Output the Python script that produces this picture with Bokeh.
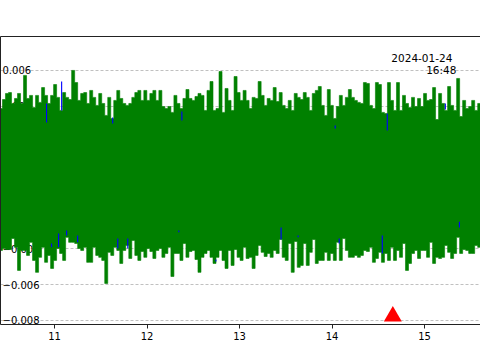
import numpy as np
from bokeh.plotting import figure
from bokeh.models import ColumnDataSource, FixedTicker, LinearAxis, Label, Range1d
from bokeh.core.properties import value
from bokeh.embed import file_html
from bokeh.resources import INLINE

# ---------------- data ----------------
x_ticks = [11, 12, 13, 14, 15]
y_ticks = [0.006, 0.004, 0.002, 0.0, -0.002, -0.004, -0.006, -0.008]
y_tick_labels = ["0.006", "0.004", "0.002", "0.000", "\u22120.002", "\u22120.004", "\u22120.006", "\u22120.008"]

# trace envelope, sampled on a regular time grid (amplitudes in units of 1e-3)
t_start = 10.4201
t_step = 0.03252
upper_e3 = [
    3.87, 4.37, 4.71, 4.76, 4.15, 4.43, 4.71, 4.15, 5.72, 4.43,
    4.60, 3.93, 4.60, 4.21, 5.04, 4.60, 4.15, 4.60, 5.21, 4.49,
    3.76, 4.76, 4.49, 4.37, 6.00, 5.32, 4.32, 4.71, 4.76, 4.15,
    4.88, 4.49, 4.04, 4.71, 4.15, 3.48, 4.49, 3.31, 4.32, 4.88,
    4.43, 4.15, 4.04, 4.15, 4.49, 4.76, 4.88, 4.32, 4.88, 4.32,
    4.71, 4.88, 4.32,
    4.88, 3.98, 3.87, 3.98, 3.65, 4.60, 4.15, 3.87, 4.43, 4.93,
    4.43, 4.32, 4.54, 4.71, 4.60, 3.76, 4.88, 5.38, 3.76, 3.87,
    5.94, 3.65, 4.99, 4.32, 3.76, 5.66, 4.76, 4.32, 4.88, 4.32,
    3.87, 4.49, 4.43, 5.38, 4.60, 4.04, 4.43, 4.32, 5.04, 4.26,
    4.76, 4.04, 3.87, 4.32, 3.76, 4.71, 4.49, 4.37, 4.76, 4.49,
    3.76, 4.71, 4.88,
    5.10, 4.04, 3.48, 4.93, 4.04, 3.31, 3.98, 4.60, 4.04, 4.49,
    4.93, 4.49, 4.32, 4.21, 4.15, 5.32, 5.27, 4.04, 3.87, 5.32,
    5.21, 3.65, 3.59, 5.32, 4.32, 3.76, 5.32, 3.76, 4.60, 4.15,
    3.93, 4.49, 3.98, 4.43, 3.98, 4.71, 4.32, 4.37, 5.04, 3.25,
    4.71, 4.15, 3.76, 5.10, 4.04, 3.76, 5.55, 3.42, 4.32, 3.87,
    3.98, 4.32, 3.76, 4.15,
]
lower_e3 = [
    -4.08, -3.97, -4.03, -4.03, -3.41, -3.91, -5.20, -4.08, -4.08, -4.36,
    -3.63, -4.64, -5.31, -4.47, -3.91, -4.75, -4.36, -5.09, -4.64, -3.97,
    -4.25, -4.64, -3.35, -3.63, -3.63, -3.69, -3.97, -4.08, -3.91, -4.75,
    -4.75, -3.91, -4.36, -4.47, -4.64, -5.93, -4.19, -4.36, -3.91, -4.08,
    -4.81, -4.08, -3.80, -4.53, -3.52, -4.36, -4.64, -4.14, -4.47, -3.97,
    -4.14, -4.53, -4.08,
    -3.97, -4.47, -4.25, -3.91, -5.54, -4.25, -4.25, -4.64, -3.69, -4.47,
    -4.14, -4.08, -4.59, -5.31, -4.47, -4.25, -4.08, -4.47, -4.81, -4.47,
    -4.08, -4.64, -5.09, -4.08, -4.92, -4.03, -4.47, -4.64, -3.91, -4.53,
    -4.47, -5.09, -4.36, -3.80, -4.19, -4.42, -4.25, -4.47, -4.08, -4.25,
    -3.47, -4.47, -4.64, -3.69, -5.31, -3.58, -5.03, -4.92, -3.69, -4.92,
    -4.19, -3.47, -4.81,
    -4.64, -4.64, -4.19, -4.64, -4.25, -4.64, -3.63, -4.64, -3.41, -4.08,
    -4.47, -4.47, -4.36, -4.47, -4.36, -4.08, -4.14, -3.91, -4.75, -4.53,
    -4.19, -4.75, -4.25, -4.64, -3.91, -4.64, -4.08, -4.47, -3.69, -5.20,
    -4.81, -4.25, -4.08, -4.53, -4.08, -4.08, -4.47, -3.63, -4.81, -4.47,
    -4.53, -4.47, -3.80, -4.19, -4.53, -4.25, -3.35, -4.25, -4.03, -4.08,
    -4.25, -4.25, -3.80, -3.91,
]

# second (blue) trace: where it shows past the green one
blue_t = [10.913, 11.076, 11.628, 12.376, 14.597, 15.225, 14.034,
          10.967, 11.043, 11.130, 11.249, 11.683, 11.791, 12.343, 12.744,
          13.449, 13.633, 14.077, 14.543, 15.377]
blue_hi_e3 = [4.15, 5.38, 3.36, 3.70, 3.59, 4.15, 2.92,
              -3.69, -3.13, -2.96, -3.24, -3.41, -3.41, -2.96, -4.59,
              -2.80, -3.24, -3.41, -3.24, -2.47]
blue_lo_e3 = [3.09, 3.76, 3.03, 3.20, 2.64, 3.81, 2.75,
              -3.91, -3.91, -3.24, -3.63, -3.97, -3.97, -3.07, -4.70,
              -3.47, -3.35, -3.69, -4.25, -2.80]

event_t = [14.657]
event_amp = [-0.00777]

stamp_date = "2024-01-24"
stamp_time = "16:48"

# ---------------- build ----------------
scale = 1e-3
n = len(upper_e3)
times = t_start + t_step * np.arange(n)
up = np.array(upper_e3) * scale
lo = np.array(lower_e3) * scale

# one filled step outline (upper edge left->right, lower edge right->left)
edges_l = times - t_step / 2
edges_r = times + t_step / 2
x_up = np.column_stack([edges_l, edges_r]).ravel()
y_up = np.repeat(up, 2)
x_lo = np.column_stack([edges_l, edges_r]).ravel()[::-1]
y_lo = np.repeat(lo, 2)[::-1]
band_x = np.concatenate([x_up, x_lo])
band_y = np.concatenate([y_up, y_lo])

blue_src = ColumnDataSource(dict(t=blue_t,
                                 top=np.array(blue_hi_e3) * scale,
                                 bottom=np.array(blue_lo_e3) * scale))

x0, x1 = 10.415, 15.605
p = figure(width=480, height=360, output_backend="svg", toolbar_location=None,
           x_range=Range1d(x0, x1), y_range=Range1d(-0.00823, 0.00790),
           min_border_left=0, min_border_right=0, min_border_top=36, min_border_bottom=36,
           background_fill_color="white", border_fill_color="white")
p.outline_line_color = None

font = "DejaVu Sans"

# bottom axis
p.xaxis.ticker = FixedTicker(ticks=x_ticks)
p.xaxis.major_tick_out = 4
p.xaxis.major_tick_in = 0
p.xaxis.minor_tick_out = 0
p.xaxis.minor_tick_in = 0
p.xaxis.major_label_standoff = 3
p.xaxis.major_label_text_font = font
p.xaxis.major_label_text_font_size = "10px"
p.xaxis.major_label_text_color = "black"
p.xaxis.axis_line_color = "#222222"
p.xaxis.major_tick_line_color = "#222222"

# left axis: spine only
p.yaxis.ticker = FixedTicker(ticks=[])
p.yaxis.major_tick_out = 0
p.yaxis.major_tick_in = 0
p.yaxis.minor_tick_out = 0
p.yaxis.minor_tick_in = 0
p.yaxis.major_label_standoff = 0
p.yaxis.major_label_text_font_size = "0px"
p.yaxis.axis_line_color = "#222222"

top_axis = LinearAxis(ticker=FixedTicker(ticks=[]), major_tick_out=0, major_tick_in=0,
                      minor_tick_out=0, minor_tick_in=0, major_label_standoff=0,
                      major_label_text_font_size="0px", axis_line_color="#222222")
p.add_layout(top_axis, "above")

p.xgrid.visible = False
p.ygrid.ticker = FixedTicker(ticks=y_ticks)
p.ygrid.grid_line_color = "#b0b0b0"
p.ygrid.grid_line_dash = "3 2"
p.ygrid.grid_line_width = 0.8

# y tick labels drawn inside the frame (underneath the trace)
p.text(x=[x0] * len(y_ticks), y=y_ticks, text=y_tick_labels,
       text_align="left", text_baseline="middle", x_offset=2,
       text_font=value(font), text_font_size="10px", text_color="black")

# traces
p.patch(x=band_x, y=band_y, fill_color="#008000", line_color="#008000", line_width=0.6)
p.vbar(x="t", width=0.012, top="top", bottom="bottom", source=blue_src,
       fill_color="#0000ff", line_color=None)

# event marker
p.scatter(x=event_t, y=event_amp, marker="triangle", size=18,
          fill_color="#ff0000", line_color=None)

# time stamp
p.add_layout(Label(x=15.301, y=0.00667, text=stamp_date, text_align="right",
                   text_baseline="alphabetic", text_font=font, text_font_size="10.5px",
                   text_color="black"))
p.add_layout(Label(x=15.345, y=0.00603, text=stamp_time, text_align="right",
                   text_baseline="alphabetic", text_font=font, text_font_size="10.5px",
                   text_color="black"))

open("out.html", "w").write(file_html(p, INLINE))
